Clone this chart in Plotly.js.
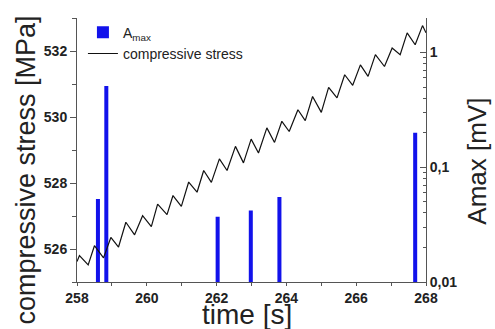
<!DOCTYPE html>
<html>
<head>
<meta charset="utf-8">
<script src="https://cdn.plot.ly/plotly-3.0.1.min.js"></script>
<style>html,body{margin:0;padding:0;background:#fff;}#chart{width:495px;height:329px;}</style>
</head>
<body>
<div id="chart"></div>
<script>
// compressive stress trace (time in s, stress in MPa)
var stressTime = [258.0, 258.07, 258.32, 258.50, 258.76, 258.97, 259.19, 259.40, 259.65, 259.88,
  260.13, 260.31, 260.58, 260.75, 260.99, 261.20, 261.44, 261.63, 261.85, 262.08,
  262.30, 262.54, 262.77, 262.99, 263.20, 263.44, 263.66, 263.87, 264.08, 264.33,
  264.54, 264.75, 265.00, 265.21, 265.45, 265.67, 265.90, 266.12, 266.34, 266.55,
  266.81, 267.03, 267.26, 267.46, 267.69, 267.90, 268.0];
var stressValue = [525.62, 525.80, 525.52, 526.10, 525.73, 526.35, 526.06, 526.81, 526.43, 527.01,
  526.68, 527.36, 527.04, 527.62, 527.29, 528.03, 527.72, 528.38, 528.02, 528.73,
  528.38, 529.11, 528.61, 529.33, 528.91, 529.67, 529.23, 529.87, 529.56, 530.22,
  529.89, 530.62, 530.14, 530.90, 530.58, 531.28, 530.96, 531.58, 531.23, 531.89,
  531.53, 532.09, 531.89, 532.55, 532.19, 532.77, 532.55];
// Amax events (time in s, amplitude in mV)
var amaxTime = [258.60, 258.84, 262.03, 262.98, 263.80, 267.69];
var amaxValue = [0.053, 0.51, 0.037, 0.042, 0.055, 0.20];
// right axis tick labels
var ampTickVals = [0.01, 0.1, 1];
var ampTickText = ['0,01', '0,1', '1'];
var ampMinorVals = [0.02,0.03,0.04,0.05,0.06,0.07,0.08,0.09,0.2,0.3,0.4,0.5,0.6,0.7,0.8,0.9,2];

var FONT = 'Arial, "Liberation Sans", sans-serif';
var tickFont = {family: FONT, size: 14, color: '#222', weight: 'bold'};
var axColor = '#555';

var traces = [
  {type: 'bar', x: amaxTime, y: amaxValue, width: 0.115, name: 'A<sub>max</sub>',
   marker: {color: 'rgb(18,18,235)', line: {width: 0}}, xaxis: 'x', yaxis: 'y'},
  {type: 'scatter', mode: 'lines', x: stressTime, y: stressValue, name: 'compressive stress',
   line: {color: '#111', width: 1.2}, xaxis: 'x', yaxis: 'y2'}
];

var layout = {
  width: 495, height: 329,
  margin: {l: 77, r: 69, t: 18, b: 47},
  paper_bgcolor: '#fff', plot_bgcolor: '#fff',
  showlegend: true,
  legend: {x: 0.017, y: 1.005, xanchor: 'left', yanchor: 'top', bgcolor: 'rgba(0,0,0,0)',
    font: {family: FONT, size: 14, color: '#222'}, tracegroupgap: 0, itemwidth: 30},
  xaxis: {range: [258, 268], tickvals: [258,260,262,264,266,268], ticks: 'outside', ticklen: 3,
    tickcolor: axColor, showline: true, linecolor: axColor, linewidth: 1, showgrid: false, zeroline: false,
    tickfont: tickFont, minor: {tickvals: [259,261,263,265,267], ticks: 'outside', ticklen: 3, tickcolor: axColor}},
  xaxis2: {range: [258, 268], overlaying: 'x', side: 'top', anchor: 'y', dtick: 1, tick0: 258,
    ticks: 'inside', ticklen: 4, tickcolor: axColor, showline: true, linecolor: axColor, linewidth: 1,
    showticklabels: false, showgrid: false, zeroline: false},
  yaxis: {type: 'log', side: 'right', range: [-2, 0.301], tickvals: ampTickVals, ticktext: ampTickText,
    ticks: 'inside', ticklen: 6, tickcolor: axColor, showline: true, linecolor: axColor, linewidth: 1,
    showgrid: false, zeroline: false, tickfont: tickFont,
    minor: {tickvals: ampMinorVals, ticks: 'inside', ticklen: 3, tickcolor: axColor}},
  yaxis2: {overlaying: 'y', side: 'left', range: [525, 533], tickvals: [526,528,530,532],
    ticks: 'outside', ticklen: 6, tickcolor: axColor, showline: true, linecolor: axColor, linewidth: 1,
    showgrid: false, zeroline: false, tickfont: tickFont,
    minor: {tickvals: [525,527,529,531,533], ticks: 'outside', ticklen: 4, tickcolor: axColor}},
  annotations: [
    {text: 'compressive stress [MPa]', xref: 'paper', yref: 'paper', x: -0.145, y: 0.424,
     xanchor: 'center', yanchor: 'middle', textangle: -90, showarrow: false,
     font: {family: FONT, size: 27, color: '#222'}},
    {text: 'Amax [mV]', xref: 'paper', yref: 'paper', x: 1.145, y: 0.458,
     xanchor: 'center', yanchor: 'middle', textangle: -90, showarrow: false,
     font: {family: FONT, size: 26, color: '#222'}},
    {text: 'time [s]', xref: 'paper', yref: 'paper', x: 0.487, y: -0.124,
     xanchor: 'center', yanchor: 'middle', showarrow: false,
     font: {family: FONT, size: 28, color: '#222'}}
  ]
};

Plotly.newPlot('chart', traces, layout, {staticPlot: true, displayModeBar: false});
</script>
</body>
</html>
